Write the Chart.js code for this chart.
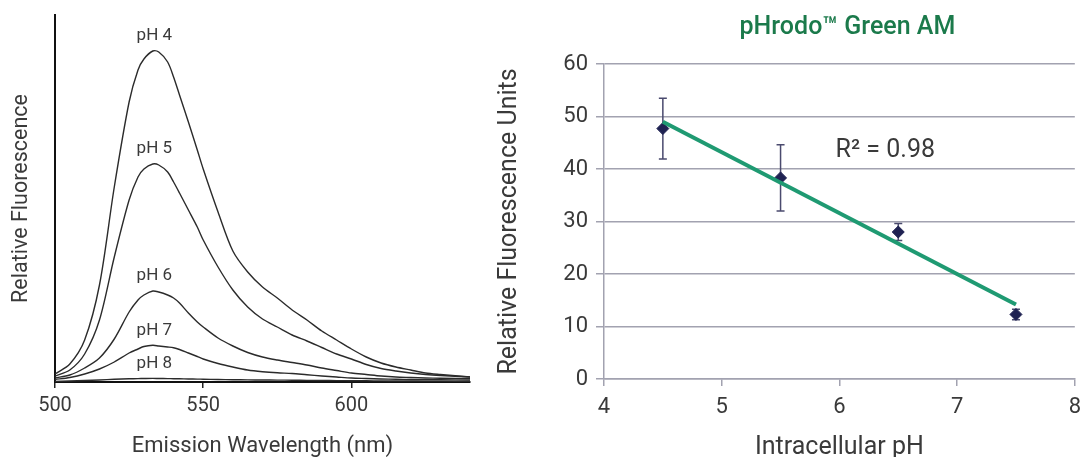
<!DOCTYPE html>
<html>
<head>
<meta charset="utf-8">
<script src="https://cdn.jsdelivr.net/npm/chart.js@4.4.1/dist/chart.umd.min.js"></script>
<style>
  body { margin: 0; background: #fff; }
  canvas { position: absolute; top: 0; }
  #spectra { left: 0; }
  #calib { left: 490px; }
</style>
</head>
<body>
<canvas id="spectra" width="480" height="457"></canvas>
<canvas id="calib" width="599" height="457"></canvas>
<script>
// left panel: emission spectra
const wavelengths = [500, 505, 510, 515, 520, 525, 528, 530, 533, 535, 538, 540, 542, 545, 548, 550, 555, 560, 565, 570, 575, 580, 585, 590, 595, 600, 605, 610, 615, 620, 625, 630, 640];
const curveNames = ["pH 4", "pH 5", "pH 6", "pH 7", "pH 8"];
const fluorPH4 = [8, 18, 42, 97, 195, 280, 312, 323, 331, 330, 320, 305, 287, 260, 232, 213, 170, 131, 110, 95, 84, 72, 62, 51, 42, 33, 25, 19, 15, 12, 9, 7.5, 5];
const fluorPH5 = [6, 12, 28, 62, 125, 182, 205, 213, 218, 217, 210, 200, 189, 172, 155, 142, 115, 92, 75, 63, 55, 47, 41, 34.5, 28, 23, 17.5, 13.5, 11, 9, 7.5, 6.5, 5];
const fluorPH6 = [4, 7, 14, 24, 43, 70, 82, 87, 91, 90, 87, 84, 79, 69, 60, 55, 44, 36, 29.5, 25, 22, 19.5, 17, 14, 11.5, 9, 7.5, 6, 5, 4.5, 4, 3.8, 3.4];
const fluorPH7 = [2.5, 4.5, 8, 13, 20, 29, 33, 35.5, 36.7, 36, 35, 34.2, 32.5, 29, 25.5, 23, 18.5, 15, 12, 10.3, 9.2, 8.5, 7.2, 6, 5, 4, 3.5, 3, 2.8, 2.5, 2.3, 2.2, 2];
const fluorPH8 = [0.5, 1, 1.5, 2, 2.7, 3.2, 3.4, 3.5, 3.6, 3.5, 3.4, 3.3, 3.2, 3, 2.9, 2.8, 2.5, 2.3, 2.1, 2, 1.9, 1.8, 1.6, 1.5, 1.4, 1.3, 1.2, 1.1, 1.05, 1, 0.9, 0.85, 0.8];
const wavelengthTicks = [500, 550, 600];

// right panel: calibration
const phValues = [4.5, 5.5, 6.5, 7.5];
const rfuMeans = [47.7, 38.3, 28.0, 12.3];
const rfuErrors = [5.8, 6.3, 1.6, 1.0];
const fitX = [4.5, 7.5];
const fitY = [49.0, 14.2];
const fitLabel = "R\u00b2 = 0.98";
const calibTitle = "pHrodo\u2122 Green AM";

Chart.defaults.font.family = "Roboto, 'DejaVu Sans', sans-serif";
Chart.defaults.color = "#3a3a3a";
Chart.defaults.animation = false;

const textColor = "#3a3a3a";
const gridGray = "#a2a2b0";

// pH labels above every curve peak
const curveLabels = {
  id: "curveLabels",
  afterDatasetsDraw(chart) {
    const { ctx, scales } = chart;
    ctx.save();
    ctx.font = "17px Roboto";
    ctx.fillStyle = textColor;
    ctx.textAlign = "center";
    ctx.textBaseline = "middle";
    chart.data.datasets.forEach(ds => {
      const peak = Math.max(...ds.data.map(p => p.y));
      ctx.fillText(ds.label, scales.x.getPixelForValue(533.5), scales.y.getPixelForValue(peak) - 15);
    });
    ctx.restore();
  }
};

const spectraSets = [fluorPH4, fluorPH5, fluorPH6, fluorPH7, fluorPH8].map((vals, i) => ({
  label: curveNames[i],
  data: wavelengths.map((w, j) => ({ x: w, y: vals[j] })),
  borderColor: "#2b2b2b",
  borderWidth: 1.4,
  pointRadius: 0,
  tension: 0.3,
  fill: false
}));

new Chart(document.getElementById("spectra"), {
  type: "line",
  data: { datasets: spectraSets },
  options: {
    responsive: false,
    layout: { padding: { top: 15, right: 10, left: 0, bottom: 0 } },
    plugins: { legend: { display: false }, tooltip: { enabled: false } },
    scales: {
      x: {
        type: "linear",
        min: 500,
        max: 640,
        afterBuildTicks: s => { s.ticks = wavelengthTicks.map(v => ({ value: v })); },
        afterFit: s => { s.height = 75; },
        grid: { drawOnChartArea: false, drawTicks: true, tickLength: 6, color: "#222", lineWidth: 1.5 },
        border: { display: true, color: "#111", width: 2 },
        ticks: { font: { size: 20 }, color: textColor, padding: 6, maxRotation: 0 },
        title: { display: true, text: "Emission Wavelength (nm)", font: { size: 22 }, color: textColor, padding: { top: 0, bottom: -3 } }
      },
      y: {
        min: 0,
        max: 367,
        afterFit: s => { s.width = 55; },
        grid: { drawOnChartArea: false, drawTicks: false },
        border: { display: true, color: "#111", width: 2 },
        ticks: { display: false },
        title: { display: true, text: "Relative Fluorescence", font: { size: 21.5 }, color: textColor, padding: { top: 9, bottom: 0 } }
      }
    }
  },
  plugins: [curveLabels]
});

// error bars, title and R² text for the calibration chart
const calibExtras = {
  id: "calibExtras",
  beforeDatasetsDraw(chart) {
    const { ctx, scales: { x, y } } = chart;
    ctx.save();
    ctx.strokeStyle = "#4a4a6e";
    ctx.lineWidth = 1.5;
    phValues.forEach((ph, i) => {
      const px = x.getPixelForValue(ph);
      const top = y.getPixelForValue(rfuMeans[i] + rfuErrors[i]);
      const bot = y.getPixelForValue(rfuMeans[i] - rfuErrors[i]);
      ctx.beginPath();
      ctx.moveTo(px, top); ctx.lineTo(px, bot);
      ctx.moveTo(px - 4, top); ctx.lineTo(px + 4, top);
      ctx.moveTo(px - 4, bot); ctx.lineTo(px + 4, bot);
      ctx.stroke();
    });
    ctx.restore();
  },
  afterDraw(chart) {
    const { ctx, chartArea, scales: { x, y } } = chart;
    ctx.save();
    ctx.textAlign = "center";
    ctx.textBaseline = "middle";
    ctx.fillStyle = "#1b7a4b";
    ctx.font = "500 25px Roboto";
    ctx.fillText(calibTitle, (chartArea.left + chartArea.right) / 2 + 8, 28);
    ctx.fillStyle = textColor;
    ctx.font = "25px Roboto";
    ctx.fillText(fitLabel, x.getPixelForValue(6.39), y.getPixelForValue(43.4));
    ctx.restore();
  }
};

new Chart(document.getElementById("calib"), {
  type: "scatter",
  data: {
    datasets: [
      {
        label: "Fit",
        type: "line",
        data: fitX.map((v, i) => ({ x: v, y: fitY[i] })),
        borderColor: "#1f9a72",
        borderWidth: 4,
        pointRadius: 0,
        order: 1
      },
      {
        label: "RFU",
        data: phValues.map((v, i) => ({ x: v, y: rfuMeans[i] })),
        pointStyle: "rectRot",
        pointRadius: 6,
        backgroundColor: "#1f2252",
        borderColor: "#1f2252",
        order: 2
      }
    ]
  },
  options: {
    responsive: false,
    layout: { padding: { top: 64, right: 6, left: 0, bottom: 0 } },
    plugins: { legend: { display: false }, tooltip: { enabled: false } },
    scales: {
      x: {
        type: "linear",
        min: 4,
        max: 8,
        afterFit: s => { s.height = 78; },
        grid: { drawOnChartArea: false, drawTicks: true, tickLength: 7, color: gridGray, lineWidth: 1.5 },
        border: { display: true, color: gridGray, width: 1.5 },
        ticks: { stepSize: 1, font: { size: 22 }, color: textColor, padding: 8, maxRotation: 0 },
        title: { display: true, text: "Intracellular pH", font: { size: 25 }, color: textColor, padding: { top: 0, bottom: -6 } }
      },
      y: {
        min: 0,
        max: 60,
        afterFit: s => { s.width = 114; },
        grid: { drawTicks: true, tickLength: 8, color: gridGray, lineWidth: 1.5 },
        border: { display: true, color: gridGray, width: 1.5 },
        ticks: { stepSize: 10, font: { size: 22 }, color: textColor, padding: 8 },
        title: { display: true, text: "Relative Fluorescence Units", font: { size: 25 }, color: textColor, padding: { top: 5, bottom: 0 } }
      }
    }
  },
  plugins: [calibExtras]
});
</script>
</body>
</html>
